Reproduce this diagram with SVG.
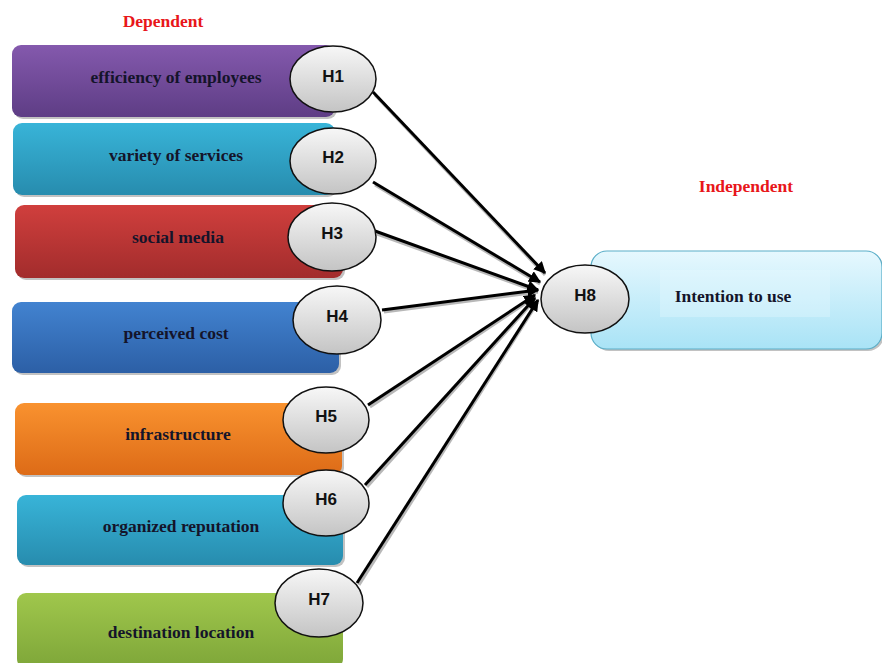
<svg xmlns="http://www.w3.org/2000/svg" width="882" height="663" viewBox="0 0 882 663">
<defs>
<linearGradient id="gPurple" x1="0" y1="0" x2="0" y2="1"><stop offset="0" stop-color="#8459ad"/><stop offset="1" stop-color="#5e3d85"/></linearGradient>
<linearGradient id="gCyan" x1="0" y1="0" x2="0" y2="1"><stop offset="0" stop-color="#38b4d8"/><stop offset="1" stop-color="#278cae"/></linearGradient>
<linearGradient id="gRed" x1="0" y1="0" x2="0" y2="1"><stop offset="0" stop-color="#d03f3d"/><stop offset="1" stop-color="#a22c2c"/></linearGradient>
<linearGradient id="gBlue" x1="0" y1="0" x2="0" y2="1"><stop offset="0" stop-color="#4283d0"/><stop offset="1" stop-color="#2c5fa6"/></linearGradient>
<linearGradient id="gOrange" x1="0" y1="0" x2="0" y2="1"><stop offset="0" stop-color="#f9922f"/><stop offset="1" stop-color="#dd6b17"/></linearGradient>
<linearGradient id="gGreen" x1="0" y1="0" x2="0" y2="1"><stop offset="0" stop-color="#a0c74c"/><stop offset="1" stop-color="#7ea639"/></linearGradient>
<linearGradient id="gLight" x1="0" y1="0" x2="0" y2="1"><stop offset="0" stop-color="#e6f8fe"/><stop offset="1" stop-color="#a9e3f6"/></linearGradient>
<linearGradient id="gEll" x1="0" y1="0" x2="0" y2="1"><stop offset="0" stop-color="#f7f7f7"/><stop offset="1" stop-color="#c4c4c4"/></linearGradient>
<marker id="arr" viewBox="0 0 10 10" refX="9" refY="5" markerWidth="4" markerHeight="4" orient="auto" markerUnits="strokeWidth">
<path d="M0,0 L10,5 L0,10 z" fill="#000"/>
</marker>
</defs>
<style>
.box{stroke:none}
.shadow{fill:#9a9a9a;opacity:0.6}
.lbl{font-family:"Liberation Serif","Times New Roman",serif;font-weight:bold;font-size:17.5px;fill:#14142a;text-anchor:middle}
.hd{font-family:"Liberation Serif","Times New Roman",serif;font-weight:bold;font-size:17.5px;fill:#e8161a;text-anchor:middle}
.ell{fill:url(#gEll);stroke:#111;stroke-width:1.5}
.h{font-family:"Liberation Sans",Arial,sans-serif;font-weight:bold;font-size:17px;fill:#111;text-anchor:middle}
.con{stroke:#000;stroke-width:3;fill:none;marker-end:url(#arr)}
.conS{stroke:#888;stroke-width:3;fill:none;opacity:0.6}
</style>
<rect width="882" height="663" fill="#fff"/>
<text class="hd" x="163" y="27">Dependent</text>
<text class="hd" x="746" y="192">Independent</text>

<g id="n1">
<rect class="shadow" x="14" y="47" width="323" height="72" rx="9"/>
<rect class="box" x="12" y="45" width="323" height="72" rx="9" fill="url(#gPurple)"/>
<text class="lbl" x="176" y="83">efficiency of employees</text>
</g>
<g id="n2">
<rect class="shadow" x="15" y="125" width="322" height="72" rx="9"/>
<rect class="box" x="13" y="123" width="322" height="72" rx="9" fill="url(#gCyan)"/>
<text class="lbl" x="176" y="161">variety of services</text>
</g>
<g id="n3">
<rect class="shadow" x="17" y="207" width="328" height="73" rx="9"/>
<rect class="box" x="15" y="205" width="328" height="73" rx="9" fill="url(#gRed)"/>
<text class="lbl" x="178" y="243">social media</text>
</g>
<g id="n4">
<rect class="shadow" x="14" y="304" width="327" height="71" rx="9"/>
<rect class="box" x="12" y="302" width="327" height="71" rx="9" fill="url(#gBlue)"/>
<text class="lbl" x="176" y="339">perceived cost</text>
</g>
<g id="n5">
<rect class="shadow" x="17" y="405" width="327" height="72" rx="9"/>
<rect class="box" x="15" y="403" width="327" height="72" rx="9" fill="url(#gOrange)"/>
<text class="lbl" x="178" y="440">infrastructure</text>
</g>
<g id="n6">
<rect class="shadow" x="19" y="497" width="326" height="70" rx="9"/>
<rect class="box" x="17" y="495" width="326" height="70" rx="9" fill="url(#gCyan)"/>
<text class="lbl" x="181" y="532">organized reputation</text>
</g>
<g id="n7">
<rect class="box" x="17" y="593" width="326" height="75" rx="9" fill="url(#gGreen)"/>
<text class="lbl" x="181" y="638">destination location</text>
</g>
<g id="n8">
<rect class="shadow" x="593" y="253" width="291" height="98" rx="16"/>
<rect x="591" y="251" width="291" height="98" rx="16" fill="url(#gLight)" stroke="#5aaec8" stroke-width="1.2"/>
<rect x="660" y="270" width="170" height="47" fill="#e9f9fe" opacity="0.35"/>
<text class="lbl" x="733" y="302">Intention to use</text>
</g>

<g id="connectors">
<line class="conS" x1="375" y1="95" x2="545" y2="275"/>
<line class="conS" x1="375" y1="185" x2="540" y2="284"/>
<line class="conS" x1="377" y1="234" x2="538" y2="292"/>
<line class="conS" x1="384" y1="312" x2="538" y2="292"/>
<line class="conS" x1="370" y1="407" x2="535" y2="297"/>
<line class="conS" x1="367" y1="487" x2="535" y2="300"/>
<line class="conS" x1="359" y1="585" x2="538" y2="302"/>
<line class="con" x1="373" y1="92" x2="545" y2="273"/>
<line class="con" x1="373" y1="182" x2="540" y2="282"/>
<line class="con" x1="375" y1="231" x2="538" y2="290"/>
<line class="con" x1="382" y1="310" x2="538" y2="290"/>
<line class="con" x1="368" y1="405" x2="535" y2="295"/>
<line class="con" x1="365" y1="485" x2="535" y2="298"/>
<line class="con" x1="357" y1="583" x2="538" y2="300"/>
</g>

<g id="h1"><ellipse class="ell" cx="333" cy="79" rx="43" ry="33"/><text class="h" x="333" y="82">H1</text></g>
<g id="h2"><ellipse class="ell" cx="333" cy="161" rx="43" ry="33"/><text class="h" x="333" y="163">H2</text></g>
<g id="h3"><ellipse class="ell" cx="332" cy="237" rx="44" ry="34"/><text class="h" x="332" y="239">H3</text></g>
<g id="h4"><ellipse class="ell" cx="337" cy="320" rx="44" ry="34"/><text class="h" x="337" y="322">H4</text></g>
<g id="h5"><ellipse class="ell" cx="326" cy="420" rx="43" ry="33"/><text class="h" x="326" y="422">H5</text></g>
<g id="h6"><ellipse class="ell" cx="326" cy="503" rx="43" ry="33"/><text class="h" x="326" y="505">H6</text></g>
<g id="h7"><ellipse class="ell" cx="319" cy="603" rx="44" ry="34"/><text class="h" x="319" y="605">H7</text></g>
<g id="h8"><ellipse class="ell" cx="585" cy="299" rx="44" ry="34"/><text class="h" x="585" y="301">H8</text></g>
</svg>
